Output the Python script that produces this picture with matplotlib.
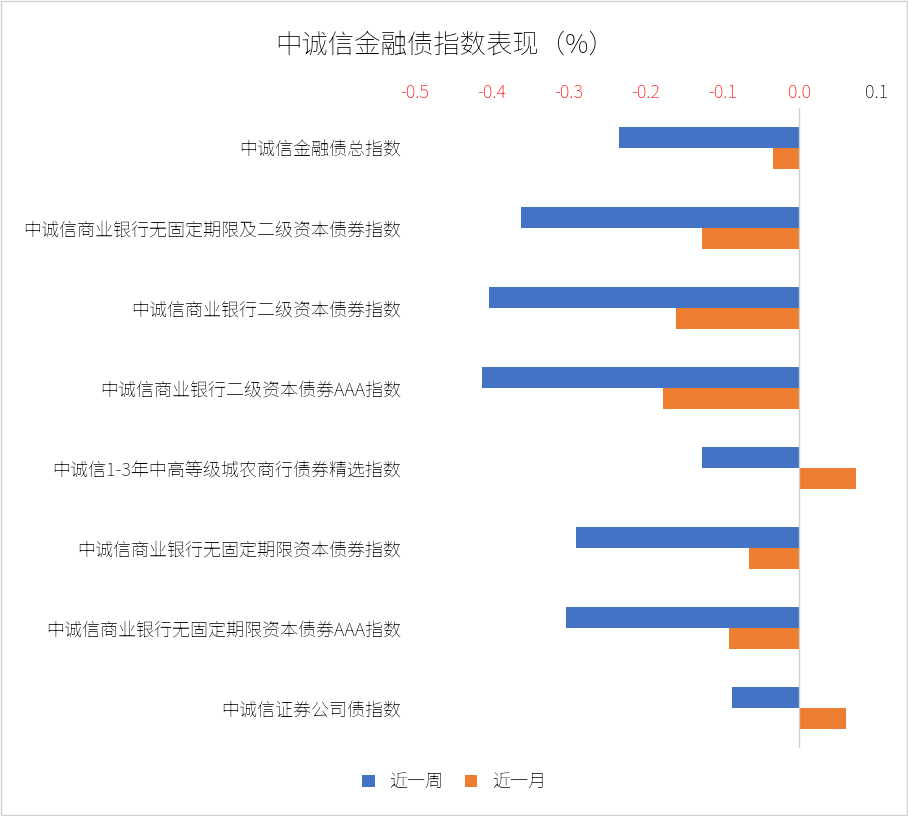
import matplotlib.pyplot as plt
from matplotlib import font_manager
import numpy as np

# locate a CJK font file and register it
cjk = None
for f in font_manager.findSystemFonts():
    if 'NotoSansCJK' in f.replace(' ', '') or 'NotoSansSC' in f or 'CJK' in f:
        font_manager.fontManager.addfont(f)
        cjk = font_manager.FontProperties(fname=f).get_name()
        if 'SC' in cjk:
            break
plt.rcParams['font.family'] = [cjk or 'Noto Sans CJK SC', 'DejaVu Sans']

categories = ['中诚信金融债总指数', '中诚信商业银行无固定期限及二级资本债券指数', '中诚信商业银行二级资本债券指数',
              '中诚信商业银行二级资本债券AAA指数', '中诚信1-3年中高等级城农商行债券精选指数',
              '中诚信商业银行无固定期限资本债券指数', '中诚信商业银行无固定期限资本债券AAA指数', '中诚信证券公司债指数']
week = [-0.235, -0.362, -0.404, -0.413, -0.127, -0.290, -0.303, -0.087]
month = [-0.034, -0.126, -0.160, -0.177, 0.074, -0.065, -0.091, 0.061]
xticks = [-0.5, -0.4, -0.3, -0.2, -0.1, 0.0, 0.1]

fig = plt.figure(figsize=(9.08, 8.16), dpi=100)
fig.patches.append(plt.Rectangle((0.001, 0.001), 0.998, 0.998, transform=fig.transFigure,
                                 fill=False, edgecolor='#d0d0d0', linewidth=1))
ax = fig.add_axes([0.457, 0.083, 0.508, 0.785])

y = np.arange(len(categories))
h = 0.26
ax.barh(y - h / 2, week, height=h, color='#4472C4', label='近一周')
ax.barh(y + h / 2, month, height=h, color='#ED7D31', label='近一月')
ax.set_ylim(len(categories) - 0.5, -0.5)
ax.set_xlim(-0.5, 0.1)
ax.set_yticks(y)
ax.set_yticklabels(categories, fontsize=13)
ax.set_xticks(xticks)
ax.set_xticklabels([f'{v:.1f}' for v in xticks], fontsize=13)
ax.xaxis.tick_top()
for lbl in ax.get_xticklabels()[:-1]:
    lbl.set_color('red')
ax.tick_params(length=0, pad=4)
ax.tick_params(axis='y', pad=10)
for s in ax.spines.values():
    s.set_visible(False)
ax.axvline(0, color='#d0d0d0', linewidth=1)

fig.text(0.49, 0.945, '中诚信金融债指数表现（%）', ha='center', va='center', fontsize=19)
fig.legend(loc='center', bbox_to_anchor=(0.5, 0.042), ncol=2, frameon=False, fontsize=13,
           handlelength=0.7, handleheight=0.7, columnspacing=1.2)

fig.savefig('out.png', dpi=100)
